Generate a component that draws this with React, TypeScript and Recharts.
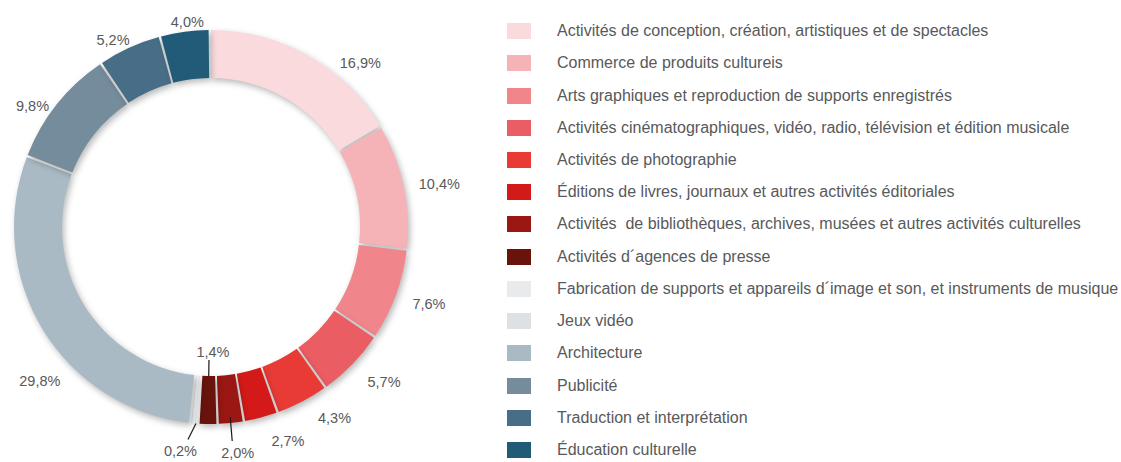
import React from "react";
import { PieChart, Pie } from "recharts";

// categories in legend / slice order (clockwise from 12 o'clock)
const categories = [
  "Activités de conception, création, artistiques et de spectacles",
  "Commerce de produits cultureis",
  "Arts graphiques et reproduction de supports enregistrés",
  "Activités cinématographiques, vidéo, radio, télévision et édition musicale",
  "Activités de photographie",
  "Éditions de livres, journaux et autres activités éditoriales",
  "Activités  de bibliothèques, archives, musées et autres activités culturelles",
  "Activités d´agences de presse",
  "Fabrication de supports et appareils d´image et son, et instruments de musique",
  "Jeux vidéo",
  "Architecture",
  "Publicité",
  "Traduction et interprétation",
  "Éducation culturelle",
];

// share of each category, in %
const shares = [16.9, 10.4, 7.6, 5.7, 4.3, 2.7, 2.0, 1.4, 0.2, 0.1, 29.8, 9.8, 5.2, 4.0];

const colors = [
  "#fadadd", "#f5b2b7", "#f0868c", "#ea5d63", "#e83b36", "#d41a18", "#9a1713",
  "#6a130d", "#e9eaeb", "#dde1e4", "#aabac4", "#758c9c", "#476e86", "#225b77",
];

// how each value label is drawn: outside the ring, inside with a leader, below with a leader, or none
const labelModes = [
  "out", "out", "out", "out", "out", "out", "below", "inner", "belowLeft", "none",
  "out", "out", "out", "out",
];
// small angular (deg) and radial (px) nudges for the outside labels
const labelShift = [-12.7, -1.4, 0.8, 2.4, 5.3, 5.1, 0, 0, 0, 0, 10.5, 4.4, 3.2, -1.1];
const labelPush = [1, 1, 0, 10, 7, 8, 0, 0, 0, 0, 8, -8, -9, -13];

const FONT = '"Liberation Sans", Arial, Helvetica, sans-serif';
const TEXT = "#58595b";
const RAD = Math.PI / 180;

const chartData = categories.map((name, i) => ({ name, value: shares[i], fill: colors[i] }));

function polar(cx: number, cy: number, r: number, a: number): [number, number] {
  return [cx + r * Math.cos(a * RAD), cy - r * Math.sin(a * RAD)];
}

function fmt(v: number) {
  return `${v.toFixed(1).replace(".", ",")}%`;
}

function renderLabel(p: any) {
  const { cx, cy, midAngle, innerRadius, outerRadius, index, value } = p;
  const mode = labelModes[index];
  if (mode === "none") return null;
  const textProps = {
    fill: TEXT,
    fontSize: 14.5,
    fontFamily: FONT,
    textAnchor: "middle" as const,
    dominantBaseline: "central" as const,
  };

  if (mode === "inner") {
    const [x1, y1] = polar(cx, cy, innerRadius, midAngle);
    const [x2, y2] = polar(cx, cy, innerRadius - 16, midAngle);
    return (
      <g key={`l${index}`}>
        <line x1={x1} y1={y1} x2={x2} y2={y2} stroke="#1a1a1a" strokeWidth={1.2} />
        <text x={x2 + 4} y={y2 - 8} {...textProps}>{fmt(value)}</text>
      </g>
    );
  }

  if (mode === "below" || mode === "belowLeft") {
    const left = mode === "belowLeft";
    const [x1, y1] = polar(cx, cy, left ? outerRadius : outerRadius - 6, midAngle);
    const x2 = x1 + (left ? -8 : 2);
    const y2 = y1 + (left ? 16 : 24);
    return (
      <g key={`l${index}`}>
        <line x1={x1} y1={y1} x2={x2} y2={y2} stroke="#1a1a1a" strokeWidth={1.2} />
        <text x={x2 + (left ? -7.5 : 5.5)} y={y2 + 12} {...textProps}>{fmt(value)}</text>
      </g>
    );
  }

  const a = midAngle + labelShift[index];
  const c = Math.abs(Math.cos(a * RAD));
  const s = Math.abs(Math.sin(a * RAD));
  const ext = Math.min(18 / Math.max(c, 0.01), 6 / Math.max(s, 0.01));
  const [x, y] = polar(cx, cy, outerRadius + 16 + labelPush[index] + ext, a);
  return (
    <text key={`l${index}`} x={x} y={y} {...textProps}>{fmt(value)}</text>
  );
}

function LegendList() {
  return (
    <div style={{ position: "absolute", left: 507, top: 15, fontFamily: FONT, fontSize: 16, color: TEXT }}>
      {categories.map((name, i) => (
        <div key={i} style={{ height: 32.23, display: "flex", alignItems: "center", whiteSpace: "pre" }}>
          <span style={{ width: 24, height: 16, background: colors[i], display: "inline-block", marginRight: 26, flex: "none" }} />
          <span>{name}</span>
        </div>
      ))}
    </div>
  );
}

export default function App() {
  return (
    <div style={{ position: "absolute", left: 0, top: 0, width: 1121, height: 462, background: "#fff" }}>
      <style>{`.recharts-pie-sector path{filter:drop-shadow(2px 3px 3px rgba(0,0,0,0.28));}`}</style>
      <PieChart width={1121} height={462} margin={{ top: 0, right: 0, bottom: 0, left: 0 }}>
        <Pie
          data={chartData}
          dataKey="value"
          nameKey="name"
          cx={211}
          cy={227}
          innerRadius={149}
          outerRadius={197}
          startAngle={90}
          endAngle={-270}
          paddingAngle={0.7}
          stroke="none"
          label={renderLabel}
          labelLine={false}
          isAnimationActive={false}
        />
      </PieChart>
      <LegendList />
    </div>
  );
}
